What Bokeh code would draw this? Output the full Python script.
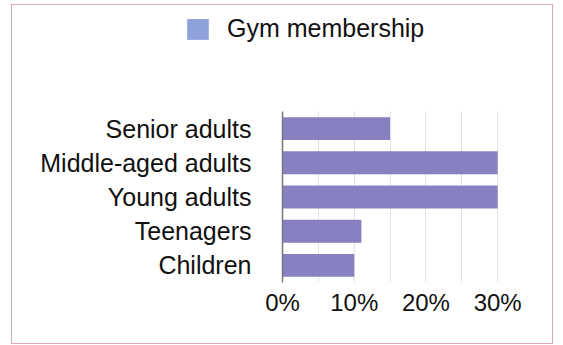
from bokeh.plotting import figure
from bokeh.layouts import column
from bokeh.models import FactorRange, FixedTicker, PrintfTickFormatter, Legend, LegendItem, ColumnDataSource
from bokeh.embed import file_html
from bokeh.resources import INLINE

categories = ["Senior adults", "Middle-aged adults", "Young adults", "Teenagers", "Children"]
values = [15, 30, 30, 11, 10]
series_name = "Gym membership"
major_ticks = [0, 10, 20, 30]
minor_ticks = [0, 5, 10, 15, 20, 25, 30, 35]

FONT = "Liberation Sans"
W = 540

src = ColumnDataSource(dict(cat=categories, val=values))

# --- legend strip on top ---
pl = figure(width=W, height=60, output_backend="svg", toolbar_location=None,
            x_axis_location=None, y_axis_location=None,
            min_border=0, min_border_left=0, min_border_right=0, min_border_top=0, min_border_bottom=0)
pl.frame_align = False
pl.outline_line_color = None
pl.grid.visible = False
pl.background_fill_color = "white"
pl.border_fill_color = "white"
key = pl.hbar(y="val", right="val", left=0, height=1, source=src,
              fill_color="#8fa1da", line_color=None, visible=False)
legend = Legend(items=[LegendItem(label=series_name, renderers=[key])],
                location=(172, 22), padding=0, margin=0, spacing=0,
                glyph_width=27, glyph_height=26, label_standoff=16,
                inactive_fill_alpha=0,
                label_text_font=FONT, label_text_font_size="25px", label_text_color="#111111",
                border_line_color=None, background_fill_alpha=0)
pl.add_layout(legend)

# --- main chart ---
p = figure(width=W, height=278, output_backend="svg", toolbar_location=None,
           y_range=FactorRange(factors=categories[::-1]), x_range=(0, 35),
           min_border_left=270, min_border_right=19, min_border_top=46, min_border_bottom=61)
p.frame_align = False
p.background_fill_color = "white"
p.border_fill_color = "white"
p.outline_line_color = None

p.hbar(y="cat", right="val", left=0, height=0.67, source=src,
       fill_color="#8781c2", line_color=None)

p.xaxis.ticker = FixedTicker(ticks=major_ticks, minor_ticks=minor_ticks)
p.xaxis.formatter = PrintfTickFormatter(format="%d%%")
p.xaxis.axis_line_color = None
p.xaxis.major_tick_line_color = None
p.xaxis.minor_tick_line_color = None
p.xaxis.major_label_text_font = FONT
p.xaxis.major_label_text_font_size = "24px"
p.xaxis.major_label_text_color = "#111111"
p.xaxis.major_label_standoff = 0

p.yaxis.axis_line_color = "#777777"
p.yaxis.axis_line_width = 1.5
p.yaxis.major_tick_line_color = None
p.yaxis.minor_tick_line_color = None
p.yaxis.major_label_text_font = FONT
p.yaxis.major_label_text_font_size = "25px"
p.yaxis.major_label_text_color = "#111111"
p.yaxis.major_label_standoff = 25

p.xgrid.grid_line_color = "#e2e2e2"
p.xgrid.minor_grid_line_color = "#e2e2e2"
p.ygrid.grid_line_color = None

layout = column(pl, p, spacing=0)
layout.styles = {"border": "1px solid #dcaab3", "margin-left": "11px", "margin-top": "4px"}

open("out.html", "w").write(file_html(layout, INLINE))
